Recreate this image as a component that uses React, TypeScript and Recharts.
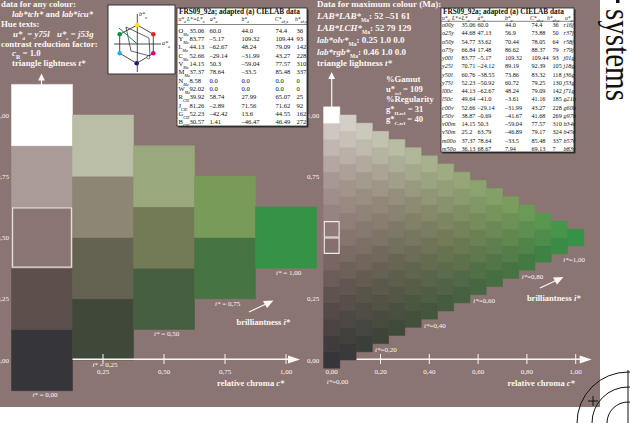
import {
  ScatterChart,
  Scatter,
  XAxis,
  YAxis,
  ReferenceArea,
  ReferenceLine,
} from "recharts";

const SERIF = "'Liberation Serif', 'Times New Roman', serif";
const BG = "#8b7572";
const INK = "#faf7f6";

// coarse triangle, step 0.25 (left)
const COARSE_CHROMA = [0, 0.25, 0.5, 0.75, 1];
const COARSE_LIGHTNESS = [
  [0, 0.25, 0.5, 0.75, 1],
  [0.125, 0.375, 0.625, 0.875],
  [0.25, 0.5, 0.75],
  [0.375, 0.625],
  [0.5],
];
const COARSE_COLORS = [
  ["#363539", "#5d4f4b", "#8b7572", "#aa9b96", "#ffffff"],
  ["#40483a", "#646250", "#8e8675", "#bbbea6"],
  ["#465f41", "#727b56", "#99a97d"],
  ["#477443", "#789b5a"],
  ["#359346"],
];

// fine triangle, 16 steps (right)
const FINE_CHROMA = [
  0, 0.0667, 0.1333, 0.2, 0.2667, 0.3333, 0.4, 0.4667, 0.5333, 0.6, 0.6667,
  0.7333, 0.8, 0.8667, 0.9333, 1,
];
const FINE_TOP_GRAY = "#dcd5d2";

const COARSE_TICKS = [0.25, 0.5, 0.75, 1];
const COARSE_TICK_LABELS = ["0,25", "0,50", "0,75", "1,00"];
const FINE_TICKS = [0, 0.2, 0.4, 0.6, 0.8, 1];
const FINE_TICK_LABELS = ["0,00", "0,20", "0,40", "0,60", "0,80", "1,00"];
const T_TICKS = [0, 0.25, 0.5, 0.75, 1];
const T_TICK_LABELS = ["0,00", "0,25", "0,50", "0,75", "1,00"];

const TABLE1_HEAD = [["u*", "a"], ["L*=L*", "a"], ["a*", "a"], ["b*", "a"], ["C*", "ab,a"], ["h*", "ab,a"]];
const TABLE1_NAMES = [
  ["O", "Ma"], ["Y", "Ma"], ["L", "Ma"], ["C", "Ma"], ["V", "Ma"], ["M", "Ma"],
  ["N", "Ma"], ["W", "Ma"], ["R", "CIE"], ["J", "CIE"], ["G", "CIE"], ["B", "CIE"],
];
const TABLE1_ROWS = [
  ["35.06", "60.0", "44.0", "74.4", "36"],
  ["83.77", "–5.17", "109.32", "109.44", "93"],
  ["44.13", "–62.67", "48.24", "79.09", "142"],
  ["52.66", "–29.14", "–31.99", "43.27", "228"],
  ["14.15", "50.3", "–59.04", "77.57", "310"],
  ["37.37", "78.64", "–33.5", "85.48", "337"],
  ["8.58", "0.0", "0.0", "0.0", "0"],
  ["92.02", "0.0", "0.0", "0.0", "0"],
  ["39.92", "58.74", "27.99", "65.07", "25"],
  ["81.26", "–2.89", "71.56", "71.62", "92"],
  ["52.23", "–42.42", "13.6", "44.55", "162"],
  ["30.57", "1.41", "–46.47", "46.49", "272"],
];

const TABLE2_HEAD = [["u*", "d"], ["L*=L*", "a"], ["a*", "a"], ["b*", "a"], ["C*", "ab,a"], ["h*", "ab,a"], ["u*", "a"]];
const TABLE2_ROWS = [
  ["o00y", "35.06", "60.0", "44.0", "74.4", "36", "r16j"],
  ["o25y", "44.68", "47.13", "56.9", "73.88", "50", "r37j"],
  ["o50y", "54.77", "33.62", "70.44", "78.05", "64", "r58j"],
  ["o75y", "66.84", "17.48", "86.62", "88.37", "79", "r79j"],
  ["y00l", "83.77", "–5.17", "109.32", "109.44", "93", "j01g"],
  ["y25l", "70.71", "–24.12", "89.19", "92.39", "105", "j18g"],
  ["y50l", "60.76", "–38.55", "73.86", "83.32", "118", "j36g"],
  ["y75l", "52.23", "–50.92", "60.72", "79.25", "130", "j53g"],
  ["l00c", "44.13", "–62.67", "48.24", "79.09", "142", "j71g"],
  ["l50c", "49.64", "–41.0", "–3.61", "41.16", "185", "g21b"],
  ["c00v", "52.66", "–29.14", "–31.99", "43.27", "228", "g60b"],
  ["c50v", "38.87", "–0.69", "–41.67", "41.68", "269", "g97b"],
  ["v00m", "14.15", "50.3", "–59.04", "77.57", "310", "b34r"],
  ["v50m", "25.2", "63.79", "–46.89", "79.17", "324", "b45r"],
  ["m00o", "37.37", "78.64", "–33.5", "85.48", "337", "b57r"],
  ["m50o", "36.13", "68.67", "7.94", "69.13", "7", "b83r"],
];

// layout
const W = 630;
const H = 423;
const X_COARSE: [number, number] = [-42 / 244, (W - 42) / 244];
const X_FINE: [number, number] = [-331.7 / 244, (W - 331.7) / 244];
const Y_DOMAIN: [number, number] = [-(H - 360) / 245, 360 / 245];
const FINE_STEP = 1 / 15;

const rgb = (h: string) => [1, 3, 5].map((i) => parseInt(h.slice(i, i + 2), 16));
const mix = (a: number[], b: number[], f: number) => a.map((v, i) => v + (b[i] - v) * f);
const toHex = (v: number[]) =>
  "#" + v.map((x) => Math.round(x).toString(16).padStart(2, "0")).join("");

function coarseColumn(k: number, t0: number) {
  const list = k === 0 ? [...COARSE_COLORS[0].slice(0, 4), FINE_TOP_GRAY] : COARSE_COLORS[k];
  if (list.length === 1) return rgb(list[0]);
  const p = Math.max(0, Math.min(1, t0)) * (list.length - 1);
  const i = Math.min(Math.floor(p), list.length - 2);
  return mix(rgb(list[i]), rgb(list[i + 1]), p - i);
}

function fineColor(c: number, t: number) {
  if (c === 0 && t > 0.999) return COARSE_COLORS[0][4];
  const t0 = c >= 0.999 ? 0.5 : (t - c / 2) / (1 - c);
  const p = c / 0.25;
  const lo = Math.min(Math.floor(p + 1e-6), 3);
  const f = Math.min(1, p - lo);
  return toHex(mix(coarseColumn(lo, t0), coarseColumn(lo + 1, t0), f));
}

const coarseCells = COARSE_CHROMA.flatMap((c, k) =>
  COARSE_LIGHTNESS[k].map((t, j) => ({ c, t, color: COARSE_COLORS[k][j] }))
);
const fineCells = FINE_CHROMA.flatMap((c, k) => {
  const out: { c: number; t: number; color: string }[] = [];
  for (let j = 0; j < FINE_CHROMA.length - k; j++) {
    const t = c / 2 + j * FINE_STEP;
    out.push({ c, t, color: fineColor(c, t) });
  }
  return out;
});

const coarseTicks = COARSE_TICKS.map((c, i) => ({ c, t: 0, label: COARSE_TICK_LABELS[i] }));
const fineTicks = FINE_TICKS.map((c, i) => ({ c, t: 0, label: FINE_TICK_LABELS[i] }));
const tTicks = T_TICKS.map((t, i) => ({ c: 0, t, label: T_TICK_LABELS[i] }));

const Sub = ({ children, size = 5.5 }: { children: any; size?: number }) => (
  <tspan baselineShift="sub" fontSize={size}>
    {children}
  </tspan>
);
const I = ({ children }: { children: any }) => <tspan fontStyle="italic">{children}</tspan>;

const xTick = (p: any) => (
  <g>
    {p.payload.c > 0 && (
      <line x1={p.cx} x2={p.cx} y1={p.cy - 6} y2={p.cy + 4} stroke={INK} strokeWidth={1} />
    )}
    <text x={p.cx} y={p.cy + 14} textAnchor="middle" fontSize={7} fill={INK} fontFamily={SERIF}>
      {p.payload.label}
    </text>
  </g>
);
const tLabelLeft = (p: any) => (
  <text x={9} y={p.cy + 2.5} textAnchor="end" fontSize={7} fill={INK} fontFamily={SERIF}>
    {p.payload.label}
  </text>
);
const tLabelRight = (p: any) =>
  p.payload.t === 0.5 ? (
    <g />
  ) : (
    <text x={307} y={p.cy + 2.5} fontSize={7} fill={INK} fontFamily={SERIF}>
      {p.payload.label}
    </text>
  );

function Table({
  x, y, w, h, titleY, headY, lineY, rowY, pitch, cols, headCols, head, rows, size,
}: any) {
  return (
    <g fontFamily={SERIF} fill="#111">
      <rect x={x + 1.5} y={y + 1.5} width={w} height={h} fill="#333" />
      <rect x={x} y={y} width={w} height={h} fill="#fff" stroke="#222" strokeWidth={0.8} />
      <text x={x + 2} y={titleY} fontSize={7.3} fontWeight="bold">
        FRS09_92a; adapted (a) CIELAB data
      </text>
      {head.map((hd: string[], i: number) => (
        <text key={i} x={headCols[i]} y={headY} fontSize={5.6} fontStyle="italic">
          {hd[0]}
          <Sub size={3.8}>{hd[1]}</Sub>
        </text>
      ))}
      <line x1={x} x2={x + w} y1={lineY} y2={lineY} stroke="#333" strokeWidth={0.6} />
      {rows.map((r: any[], i: number) =>
        r.map((cell: any, j: number) => (
          <text
            key={`${i}-${j}`}
            x={cols[j]}
            y={rowY + i * pitch}
            fontSize={size}
            fontStyle={typeof cell !== "string" || j === 0 || j === 6 ? "italic" : "normal"}
          >
            {typeof cell === "string" ? (
              cell
            ) : (
              <>
                <tspan fontStyle="normal">{cell[0]}</tspan>
                <Sub size={4}>{cell[1]}</Sub>
              </>
            )}
          </text>
        ))
      )}
    </g>
  );
}

function Overlay() {
  const head = (x: number, y: number) => (
    <polygon points={`${x},${y} ${x - 3.4},${y + 7} ${x + 3.4},${y + 7}`} fill={INK} />
  );
  const right = (x: number, y: number) => (
    <polygon points={`${x},${y} ${x - 12},${y - 4} ${x - 12},${y + 4}`} fill={INK} />
  );
  return (
    <svg
      width={W}
      height={H}
      style={{ position: "absolute", left: 0, top: 0, pointerEvents: "none" }}
    >
      {/* upper left texts */}
      <g fontFamily={SERIF} fontWeight="bold" fontSize={8.8} fill={INK}>
        <text x={1} y={7}>data for any colour:</text>
        <text x={12} y={17}>
          <I>lab*tch*</I> and <I>lab*icu*</I>
        </text>
        <text x={1} y={27}>Hue texts:</text>
        <text x={13} y={37}>
          <I>u*</I>
          <Sub size={5}>d</Sub> = <I>y75l</I>
        </text>
        <text x={57} y={37}>
          <I>u*</I>
          <Sub size={5}>e</Sub> = <I>j53g</I>
        </text>
        <text x={1} y={47}>contrast reduction factor:</text>
        <text x={12} y={56}>
          <I>c</I>
          <Sub size={6}>R</Sub> = 1.0
        </text>
        <text x={12} y={66}>
          triangle lightness <I>t*</I>
        </text>
      </g>

      {/* hue circle */}
      <g>
        <rect x={108} y={5} width={67} height={69} fill="#fff" stroke="#333" strokeWidth={1} />
        <line x1={137.3} x2={137.3} y1={14} y2={72} stroke="#222" strokeWidth={0.8} />
        <line x1={114} x2={161} y1={44} y2={44} stroke="#222" strokeWidth={0.8} />
        <polygon
          points="137.3,25 153.3,34.3 153.3,53.3 136.7,63.3 119.7,53.3 119.7,34.3"
          fill="none"
          stroke="#222"
          strokeWidth={0.8}
        />
        <polygon
          points="126,27 149,38 150,56 131,51"
          fill="none"
          stroke="#222"
          strokeWidth={0.7}
        />
        <line x1={137.3} y1={44} x2={119} y2={28} stroke="#1e8a3a" strokeWidth={1} />
        <circle cx={137.3} cy={25} r={2.3} fill="#ffe600" />
        <circle cx={153.3} cy={34.3} r={2.3} fill="#ee1c25" />
        <circle cx={153.3} cy={53.3} r={2.3} fill="#e4007f" />
        <circle cx={136.7} cy={63.3} r={2.3} fill="#1d1d7a" />
        <circle cx={119.7} cy={53.3} r={2.3} fill="#1ab2ec" />
        <circle cx={119.7} cy={34.3} r={2.3} fill="#009443" />
        <circle cx={148.3} cy={57.3} r={1.6} fill="#fff" stroke="#222" strokeWidth={0.6} />
        <text x={139} y={16} fontSize={6} fontStyle="italic" fontFamily={SERIF} fill="#222">
          b*<Sub size={4}>a</Sub>
        </text>
        <text x={162} y={45} fontSize={6} fontStyle="italic" fontFamily={SERIF} fill="#222">
          a*<Sub size={4}>a</Sub>
        </text>
      </g>

      <Table
        x={177}
        y={8}
        w={130}
        h={118}
        titleY={14.3}
        headY={20.5}
        lineY={24.5}
        rowY={32.5}
        pitch={8.36}
        size={6.6}
        cols={[178.5, 189.5, 209.5, 241.5, 275.5, 296.5]}
        headCols={[178.5, 187, 210, 241.5, 275, 295]}
        head={TABLE1_HEAD}
        rows={TABLE1_NAMES.map((n, i) => [n, ...TABLE1_ROWS[i]])}
      />
      <Table
        x={441}
        y={8}
        w={133}
        h={144}
        titleY={14}
        headY={20}
        lineY={21.3}
        rowY={27}
        pitch={8.25}
        size={6.2}
        cols={[442, 461.5, 477.5, 505, 531.5, 552.5, 563.5]}
        headCols={[442, 452, 477.5, 505, 530, 547, 565]}
        head={TABLE2_HEAD}
        rows={TABLE2_ROWS}
      />

      {/* upper right texts */}
      <g fontFamily={SERIF} fontWeight="bold" fontSize={9} fill={INK}>
        <text x={317} y={7}>Data for maximum colour (Ma):</text>
        <text x={317} y={18.5}>
          <I>LAB*LAB*</I>
          <Sub>Ma</Sub>: 52 &#8211;51 61
        </text>
        <text x={317} y={30.5}>
          <I>LAB*LCH*</I>
          <Sub>Ma</Sub>: 52 79 129
        </text>
        <text x={317} y={42.5}>
          <I>lab*olv*</I>
          <Sub>Ma</Sub>: 0.25 1.0 0.0
        </text>
        <text x={317} y={54.5}>
          <I>lab*rgb*</I>
          <Sub>Ma</Sub>: 0.46 1.0 0.0
        </text>
        <text x={317} y={66}>
          triangle lightness <I>t*</I>
        </text>
        <g fontSize={8.6}>
          <text x={386} y={82}>%Gamut</text>
          <text x={386} y={91.5}>
            u*<Sub size={5}>rel</Sub> = 109
          </text>
          <text x={386} y={101.5}>%Regularity</text>
          <text x={386} y={111.5}>
            g*<Sub size={5}>H,rel</Sub> = 31
          </text>
          <text x={386} y={121.5}>
            g*<Sub size={5}>C,rel</Sub> = 40
          </text>
        </g>
      </g>

      {/* axes arrows */}
      <line x1={41.5} x2={41.5} y1={79} y2={85} stroke={INK} strokeWidth={1.2} />
      {head(41.5, 73.5)}
      <line x1={331.7} x2={331.7} y1={79} y2={107} stroke={INK} strokeWidth={1.2} />
      {head(331.7, 72)}
      {right(300, 359.5)}
      {right(591.7, 359.5)}

      {/* annotations */}
      <g fontFamily={SERIF} fontSize={7} fill={INK}>
        <text x={45} y={396.5} textAnchor="middle">
          <I>i*</I> = 0,00
        </text>
        <text x={105} y={366.8} textAnchor="middle">
          <I>i*</I> = 0,25
        </text>
        <text x={166.7} y={336.2} textAnchor="middle">
          <I>i*</I> = 0,50
        </text>
        <text x={227.7} y={305.8} textAnchor="middle">
          <I>i*</I> = 0,75
        </text>
        <text x={288.7} y={275.2} textAnchor="middle">
          <I>i*</I> = 1,00
        </text>
        <text x={326.7} y={383.5}>
          <I>i*</I>=0,00
        </text>
        <text x={375} y={351.8}>
          <I>i*</I>=0,20
        </text>
        <text x={424} y={327.5}>
          <I>i*</I>=0,40
        </text>
        <text x={473.3} y={302.8}>
          <I>i*</I>=0,60
        </text>
        <text x={521.7} y={278.5}>
          <I>i*</I>=0,80
        </text>
        <text x={563.3} y={261.8}>
          <I>i*</I>=1,00
        </text>
      </g>
      <g fontFamily={SERIF} fontWeight="bold" fontSize={8.5} fill={INK} textAnchor="middle">
        <text x={263.3} y={325}>
          brilliantness <I>i*</I>
        </text>
        <text x={250.7} y={386}>
          relative chroma <I>c*</I>
        </text>
        <text x={553.7} y={301}>
          brilliantness <I>i*</I>
        </text>
        <text x={541.2} y={386}>
          relative chroma <I>c*</I>
        </text>
      </g>
      <line x1={249} y1={312} x2={266} y2={304} stroke={INK} strokeWidth={1.2} />
      <polygon points="273.5,300.5 263,301 267,308" fill={INK} />
      <line x1={540} y1={288} x2={556} y2={280.5} stroke={INK} strokeWidth={1.2} />
      <polygon points="563.5,277 553,277.5 557,284.5" fill={INK} />

      {/* right margin */}
      <text
        transform="translate(606,9) rotate(90)"
        fontFamily={SERIF}
        fontSize={35}
        fill="#111"
        textLength={92}
        lengthAdjust="spacingAndGlyphs"
      >
        systems
      </text>
      <rect x={616} y={-2} width={3.5} height={5} fill="#111" />
      <g stroke="#111" strokeWidth={1} fill="none">
        <circle cx={628} cy={423} r={51} />
        <circle cx={628} cy={423} r={36} />
        <circle cx={628} cy={423} r={21} />
        <line x1={628} x2={628} y1={370} y2={423} />
        <line x1={588} x2={598} y1={401} y2={401} />
        <line x1={593} x2={593} y1={396} y2={406} />
      </g>
    </svg>
  );
}

export default function App() {
  return (
    <div style={{ position: "relative", width: W, height: H, background: "#fff", overflow: "hidden" }}>
      <style>{"body{margin:0}"}</style>
      <div style={{ position: "absolute", left: 0, top: 0, width: 600, height: 407, background: BG }} />
      <div style={{ position: "absolute", left: 0, top: 0 }}>
        <ScatterChart width={W} height={H} margin={{ top: 0, right: 0, bottom: 0, left: 0 }}>
          <XAxis xAxisId="coarse" type="number" dataKey="c" domain={X_COARSE} hide allowDataOverflow />
          <XAxis xAxisId="fine" type="number" dataKey="c" domain={X_FINE} hide allowDataOverflow />
          <YAxis type="number" dataKey="t" domain={Y_DOMAIN} hide allowDataOverflow />
          {coarseCells.map((d, i) => (
            <ReferenceArea
              key={`c${i}`}
              xAxisId="coarse"
              x1={d.c - 0.125}
              x2={d.c + 0.125}
              y1={d.t - 0.125}
              y2={d.t + 0.125}
              fill={d.color}
              fillOpacity={1}
              stroke={d.color}
              strokeWidth={0.5}
            />
          ))}
          {fineCells.map((d, i) => (
            <ReferenceArea
              key={`f${i}`}
              xAxisId="fine"
              x1={d.c - FINE_STEP / 2}
              x2={d.c + FINE_STEP / 2}
              y1={d.t - FINE_STEP / 2}
              y2={d.t + FINE_STEP / 2}
              fill={d.color}
              fillOpacity={1}
              stroke={d.color}
              strokeWidth={0.5}
            />
          ))}
          <ReferenceArea
            xAxisId="coarse"
            x1={-0.121}
            x2={0.121}
            y1={0.379}
            y2={0.621}
            fill="none"
            stroke="#e4dfdd"
            strokeWidth={1.4}
          />
          {fineCells
            .filter((d) => d.c === 0 && Math.abs(d.t - 0.5) < 0.05)
            .map((d, i) => (
              <ReferenceArea
                key={`o${i}`}
                xAxisId="fine"
                x1={d.c - FINE_STEP / 2 + 0.003}
                x2={d.c + FINE_STEP / 2 - 0.003}
                y1={d.t - FINE_STEP / 2 + 0.002}
                y2={d.t + FINE_STEP / 2 - 0.002}
                fill="none"
                stroke="#f0ecea"
                strokeWidth={1.1}
              />
            ))}
          <ReferenceLine
            xAxisId="coarse"
            segment={[{ x: 0.125, y: 0.003 }, { x: 1.02, y: 0.003 }]}
            stroke={INK}
            strokeWidth={1.3}
          />
          <ReferenceLine
            xAxisId="fine"
            segment={[{ x: 0.102, y: 0.003 }, { x: 1.03, y: 0.003 }]}
            stroke={INK}
            strokeWidth={1.3}
          />
          <Scatter xAxisId="coarse" data={coarseTicks} shape={xTick} isAnimationActive={false} />
          <Scatter xAxisId="fine" data={fineTicks} shape={xTick} isAnimationActive={false} />
          <Scatter xAxisId="coarse" data={tTicks} shape={tLabelLeft} isAnimationActive={false} />
          <Scatter xAxisId="coarse" data={tTicks} shape={tLabelRight} isAnimationActive={false} />
        </ScatterChart>
      </div>
      <Overlay />
    </div>
  );
}
